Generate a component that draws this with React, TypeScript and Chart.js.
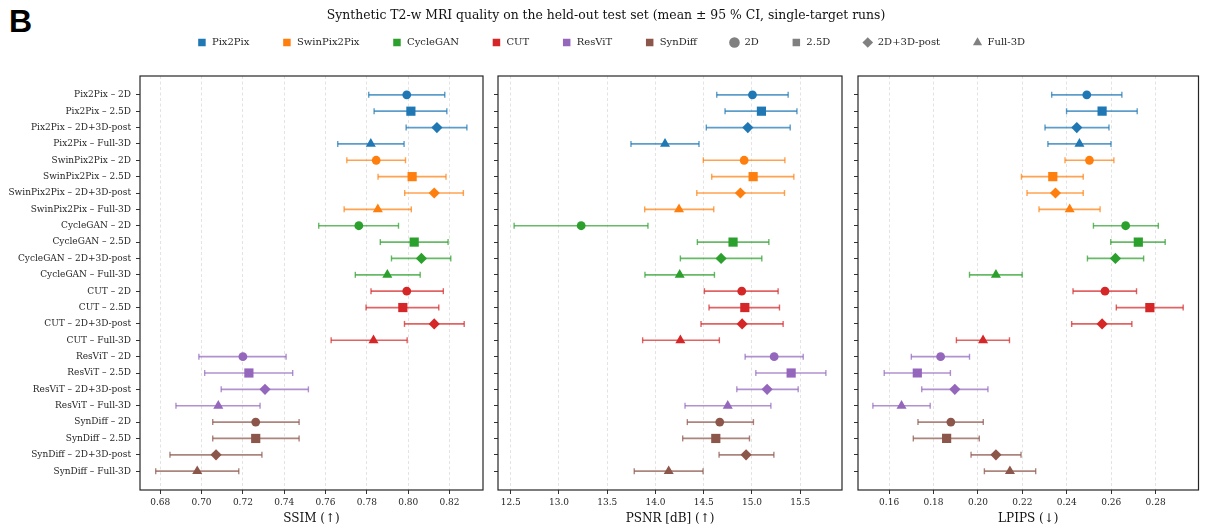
import React, { useEffect, useRef } from 'react';
import { Chart, registerables } from 'chart.js';

Chart.register(...registerables);

const FONT = "'DejaVu Serif', serif";

const models = ['Pix2Pix', 'SwinPix2Pix', 'CycleGAN', 'CUT', 'ResViT', 'SynDiff'];
const modelColors = ['#1f77b4', '#ff7f0e', '#2ca02c', '#d62728', '#9467bd', '#8c564b'];
const dims = ['2D', '2.5D', '2D+3D-post', 'Full-3D'];
const dimStyles = ['circle', 'rect', 'rectRot', 'triangle'];
const dimRadii = [4.4, 6.5, 5.6, 5.8];

const rowLabels = models.flatMap((m) => dims.map((d) => `${m} – ${d}`));

// SSIM
const ssimMean = [0.7993, 0.8013, 0.8139, 0.7819, 0.7845, 0.8019, 0.8126, 0.7853, 0.7761, 0.8029, 0.8064, 0.7899, 0.7993, 0.7974, 0.8126, 0.7832, 0.72, 0.7229, 0.7307, 0.7081, 0.7262, 0.7262, 0.707, 0.6979];
const ssimLo = [0.7809, 0.7835, 0.799, 0.7659, 0.7703, 0.7854, 0.7983, 0.769, 0.7567, 0.7865, 0.7919, 0.7744, 0.782, 0.7796, 0.7982, 0.7627, 0.6987, 0.7015, 0.7095, 0.6876, 0.7054, 0.7054, 0.6847, 0.6778];
const ssimHi = [0.8177, 0.8187, 0.8284, 0.798, 0.7987, 0.8183, 0.8267, 0.8015, 0.7953, 0.8193, 0.8206, 0.8058, 0.817, 0.8148, 0.8271, 0.7995, 0.7409, 0.7441, 0.7517, 0.7283, 0.7472, 0.7472, 0.7292, 0.718];
const ssimTicks = [0.68, 0.7, 0.72, 0.74, 0.76, 0.78, 0.8, 0.82];

// PSNR
const psnrMean = [15.005, 15.098, 14.957, 14.099, 14.919, 15.012, 14.88, 14.244, 13.23, 14.804, 14.68, 14.251, 14.894, 14.926, 14.898, 14.258, 15.23, 15.406, 15.157, 14.749, 14.666, 14.625, 14.939, 14.137];
const psnrLo = [14.635, 14.721, 14.527, 13.746, 14.496, 14.583, 14.428, 13.888, 12.535, 14.434, 14.258, 13.891, 14.507, 14.555, 14.472, 13.867, 14.929, 15.04, 14.843, 14.306, 14.33, 14.282, 14.659, 13.78];
const psnrHi = [15.375, 15.466, 15.396, 14.451, 15.341, 15.434, 15.337, 14.604, 13.922, 15.175, 15.102, 14.611, 15.271, 15.285, 15.323, 14.662, 15.531, 15.766, 15.479, 15.196, 15.015, 14.974, 15.227, 14.493];
const psnrTicks = [12.5, 13.0, 13.5, 14.0, 14.5, 15.0, 15.5];

// LPIPS
const lpipsMean = [0.249, 0.2559, 0.2445, 0.2457, 0.2502, 0.2337, 0.2349, 0.2413, 0.2665, 0.2722, 0.2619, 0.2081, 0.2572, 0.2774, 0.2559, 0.2023, 0.1832, 0.1727, 0.1896, 0.1656, 0.1878, 0.1859, 0.2081, 0.2144];
const lpipsLo = [0.2332, 0.2399, 0.2302, 0.2315, 0.2392, 0.2196, 0.2221, 0.2275, 0.252, 0.2598, 0.2493, 0.1962, 0.2428, 0.2623, 0.2422, 0.1903, 0.17, 0.1578, 0.1747, 0.1527, 0.173, 0.1709, 0.1969, 0.2029];
const lpipsHi = [0.2648, 0.2717, 0.259, 0.2599, 0.2612, 0.2474, 0.2474, 0.255, 0.2812, 0.2843, 0.2746, 0.2199, 0.2714, 0.2924, 0.2693, 0.2142, 0.1962, 0.1876, 0.2045, 0.1785, 0.2024, 0.2006, 0.2194, 0.226];
const lpipsTicks = [0.16, 0.18, 0.2, 0.22, 0.24, 0.26, 0.28];

const titleText = 'Synthetic T2-w MRI quality on the held-out test set (mean ± 95 % CI, single-target runs)';

function withAlpha(hex: string, a: number) {
  const n = parseInt(hex.slice(1), 16);
  return `rgba(${(n >> 16) & 255},${(n >> 8) & 255},${n & 255},${a})`;
}

const framePlugin = {
  id: 'frame',
  afterDraw(chart: any) {
    const { ctx, chartArea: a } = chart;
    ctx.save();
    ctx.strokeStyle = '#262626';
    ctx.lineWidth = 1.2;
    ctx.strokeRect(a.left, a.top, a.right - a.left, a.bottom - a.top);
    ctx.restore();
  },
};

function buildDatasets(mean: number[], lo: number[], hi: number[]) {
  const ds: any[] = [];
  models.forEach((m, mi) => {
    const pts = dims.map((_, di) => ({ x: mean[mi * 4 + di], y: mi * 4 + di }));
    ds.push({
      type: 'scatter',
      label: m,
      order: 0,
      data: pts,
      pointStyle: dimStyles,
      pointRadius: dimRadii,
      backgroundColor: modelColors[mi],
      borderColor: modelColors[mi],
      borderWidth: 0,
    });
  });
  models.forEach((m, mi) => {
    const pts: any[] = [];
    dims.forEach((_, di) => {
      const i = mi * 4 + di;
      pts.push({ x: lo[i], y: i }, { x: hi[i], y: i }, { x: NaN, y: NaN });
    });
    const c = withAlpha(modelColors[mi], 0.72);
    ds.push({
      type: 'line',
      label: m + ' CI',
      order: 1,
      data: pts,
      borderColor: c,
      borderWidth: 1.7,
      showLine: true,
      spanGaps: false,
      fill: false,
      tension: 0,
      pointStyle: 'line',
      pointRotation: 90,
      pointRadius: 3,
      pointBorderWidth: 1.4,
      pointBorderColor: c,
      pointBackgroundColor: c,
    });
  });
  return ds;
}

function panelConfig(p: any) {
  return {
    type: 'scatter',
    data: { datasets: buildDatasets(p.mean, p.lo, p.hi) },
    options: {
      responsive: false,
      animation: false,
      events: [],
      layout: { padding: { top: 16, right: p.padRight, bottom: 0, left: 0 } },
      plugins: { legend: { display: false }, tooltip: { enabled: false }, title: { display: false } },
      scales: {
        x: {
          type: 'linear',
          min: p.xMin,
          max: p.xMax,
          afterBuildTicks: (s: any) => {
            s.ticks = p.ticks.map((v: number) => ({ value: v }));
          },
          afterFit: (s: any) => {
            s.height = 37;
          },
          ticks: {
            callback: (v: any) => Number(v).toFixed(p.decimals),
            font: { family: FONT, size: 9 },
            color: '#262626',
            padding: 3,
            maxRotation: 0,
            autoSkip: false,
          },
          grid: {
            color: 'rgba(176,176,176,0.45)',
            lineWidth: 0.8,
            drawTicks: true,
            tickLength: 4,
            tickColor: '#333',
            tickWidth: 1,
          },
          border: { display: false, dash: [3, 2.5] },
          title: {
            display: true,
            text: p.title,
            font: { family: FONT, size: 12 },
            color: '#111',
            padding: { top: 0, bottom: 1 },
          },
        },
        y: {
          type: 'linear',
          min: -1.15,
          max: 24.15,
          reverse: true,
          afterBuildTicks: (s: any) => {
            s.ticks = rowLabels.map((_, i) => ({ value: i }));
          },
          afterFit: (s: any) => {
            s.width = p.yWidth;
          },
          ticks: {
            callback: (v: any) => (p.showLabels ? rowLabels[Math.round(Number(v))] : ''),
            font: { family: FONT, size: 9 },
            color: '#262626',
            padding: 5,
            autoSkip: false,
          },
          grid: {
            drawOnChartArea: false,
            drawTicks: true,
            tickLength: 4,
            tickColor: '#333',
            tickWidth: 1,
          },
          border: { display: false },
        },
      },
    },
    plugins: [framePlugin],
  };
}

const legendItems = () => {
  const items: any[] = models.map((m, i) => ({
    text: m,
    fillStyle: modelColors[i],
    strokeStyle: modelColors[i],
    lineWidth: 0,
    pointStyle: 'rect',
    hidden: false,
    fontColor: '#262626',
    datasetIndex: i,
  }));
  dims.forEach((d, i) => {
    items.push({
      text: d,
      fillStyle: '#808080',
      strokeStyle: '#808080',
      lineWidth: 0,
      pointStyle: dimStyles[i],
      hidden: false,
      fontColor: '#262626',
      datasetIndex: 6 + i,
    });
  });
  return items;
};

const panels = [
  { mean: ssimMean, lo: ssimLo, hi: ssimHi, xMin: 0.6702, xMax: 0.8362, ticks: ssimTicks, decimals: 2, title: 'SSIM (↑)', showLabels: true, yWidth: 140, padRight: 7, left: 0, width: 490 },
  { mean: psnrMean, lo: psnrLo, hi: psnrHi, xMin: 12.368, xMax: 15.933, ticks: psnrTicks, decimals: 1, title: 'PSNR [dB] (↑)', showLabels: false, yWidth: 8, padRight: 8, left: 490, width: 360 },
  { mean: lpipsMean, lo: lpipsLo, hi: lpipsHi, xMin: 0.146, xMax: 0.2993, ticks: lpipsTicks, decimals: 2, title: 'LPIPS (↓)', showLabels: false, yWidth: 8, padRight: 5, left: 850, width: 355 },
];

export default function App() {
  const titleRef = useRef<HTMLCanvasElement>(null);
  const legendRef = useRef<HTMLCanvasElement>(null);
  const p0 = useRef<HTMLCanvasElement>(null);
  const p1 = useRef<HTMLCanvasElement>(null);
  const p2 = useRef<HTMLCanvasElement>(null);

  useEffect(() => {
    Chart.defaults.font.family = FONT;
    const charts: Chart[] = [];
    charts.push(
      new Chart(titleRef.current as any, {
        type: 'scatter',
        data: { datasets: [] },
        options: {
          responsive: false,
          animation: false,
          events: [],
          layout: { padding: { left: 7 } },
          scales: { x: { display: false }, y: { display: false } },
          plugins: {
            legend: { display: false },
            tooltip: { enabled: false },
            title: {
              display: true,
              text: titleText,
              font: { family: FONT, size: 12.4, weight: 'normal' },
              color: '#111',
              padding: { top: 8, bottom: 0 },
            },
          },
        },
      } as any)
    );
    charts.push(
      new Chart(legendRef.current as any, {
        type: 'scatter',
        data: { datasets: [] },
        options: {
          responsive: false,
          animation: false,
          events: [],
          layout: { padding: { left: 17 } },
          scales: { x: { display: false }, y: { display: false } },
          plugins: {
            tooltip: { enabled: false },
            legend: {
              display: true,
              position: 'top',
              align: 'center',
              maxHeight: 80,
              labels: {
                usePointStyle: true,
                boxHeight: 7.5,
                padding: 32.5,
                font: { family: FONT, size: 10 },
                color: '#262626',
                generateLabels: legendItems,
              },
            },
          },
        },
      } as any)
    );
    [p0, p1, p2].forEach((r, i) => {
      charts.push(new Chart(r.current as any, panelConfig(panels[i]) as any));
    });
    return () => charts.forEach((c) => c.destroy());
  }, []);

  return (
    <div style={{ position: 'absolute', left: 0, top: 0, width: 1205, height: 527, background: '#fff', overflow: 'hidden' }}>
      <div
        style={{
          position: 'absolute',
          left: 9,
          top: 5,
          fontFamily: "'Liberation Sans', Arial, sans-serif",
          fontWeight: 'bold',
          fontSize: 32,
          lineHeight: '32px',
          color: '#000',
        }}
      >
        B
      </div>
      <canvas ref={titleRef} width={1205} height={40} style={{ position: 'absolute', left: 0, top: 0 }} />
      <canvas ref={p0} width={490} height={467} style={{ position: 'absolute', left: 0, top: 60 }} />
      <canvas ref={p1} width={360} height={467} style={{ position: 'absolute', left: 490, top: 60 }} />
      <canvas ref={p2} width={355} height={467} style={{ position: 'absolute', left: 850, top: 60 }} />
      <canvas ref={legendRef} width={1205} height={160} style={{ position: 'absolute', left: 0, top: 4.5, pointerEvents: 'none' }} />
    </div>
  );
}
